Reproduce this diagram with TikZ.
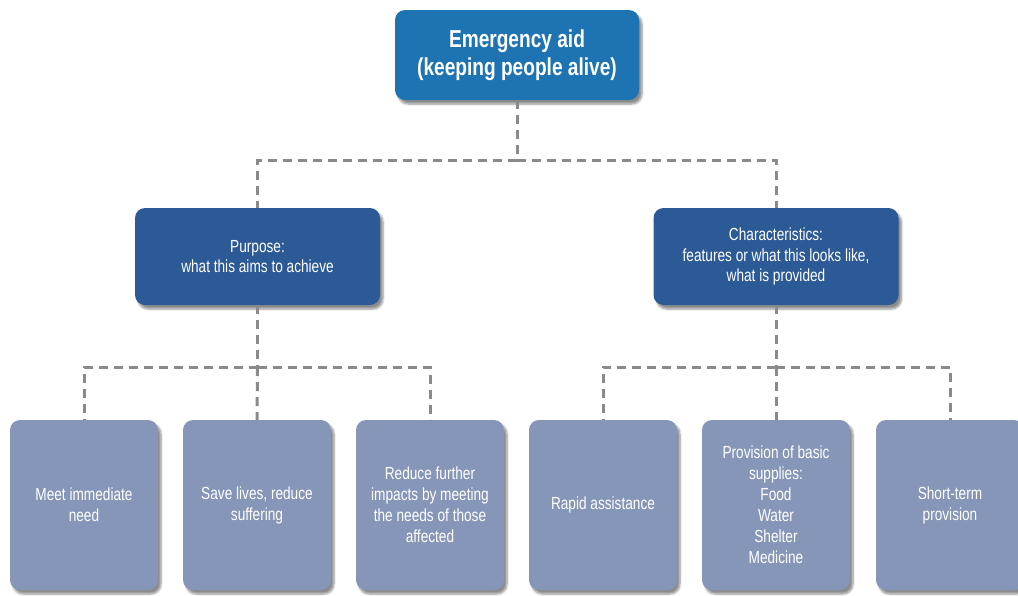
\documentclass[tikz,border=0pt]{standalone}
\usepackage{fontspec}
\setmainfont{Liberation Sans}[FakeStretch=0.78]
\usetikzlibrary{shadows.blur}
\definecolor{topblue}{HTML}{1E74B2}
\definecolor{midblue}{HTML}{2C5A97}
\definecolor{lowblue}{HTML}{8696B8}
\definecolor{linkgray}{HTML}{8A8A8A}
\tikzset{
  card/.style={rectangle, rounded corners=10pt, text=white, align=center,
    blur shadow={shadow xshift=3pt, shadow yshift=-4pt, shadow blur steps=6, shadow opacity=45}},
  headbox/.style={card, fill=topblue, minimum width=244pt, minimum height=90pt,
    font=\fontsize{24.5}{28}\selectfont\bfseries},
  groupbox/.style={card, fill=midblue, minimum width=245pt, minimum height=97pt,
    font=\fontsize{17.5}{20.5}\selectfont},
  leafbox/.style={card, fill=lowblue, minimum width=148pt, minimum height=170pt,
    font=\fontsize{17.5}{21}\selectfont},
  link/.style={draw=linkgray, line width=3pt, dash pattern=on 9pt off 6pt}
}
\begin{document}
\begin{tikzpicture}[x=1pt, y=-1pt]
\useasboundingbox (0,0) rectangle (1018,595);
\clip (0,0) rectangle (1018,595);

% junction points of the dashed tree
\coordinate (j0) at (517,160);
\coordinate (j1) at (257.5,367);
\coordinate (j2) at (776,367);

\node[headbox] (top) at (517,55) {Emergency aid\\(keeping people alive)};
\node[groupbox] (purpose) at (257.5,256.5) {Purpose:\\what this aims to achieve};
\node[groupbox] (chars) at (776,256.5) {Characteristics:\\features or what this looks like,\\what is provided};

\node[leafbox] (l1) at (84,505) {Meet immediate\\need};
\node[leafbox] (l2) at (257,505) {Save lives, reduce\\suffering};
\node[leafbox] (l3) at (430,505) {Reduce further\\impacts by meeting\\the needs of those\\affected};
\node[leafbox] (l4) at (603,505) {Rapid assistance};
\node[leafbox] (l5) at (776,505) {Provision of basic\\supplies:\\Food\\Water\\Shelter\\Medicine};
\node[leafbox] (l6) at (950,505) {Short-term\\provision};

% dashed connectors
\draw[link] (top.south) -- (j0);
\draw[link] (j0) -| (purpose.north);
\draw[link] (j0) -| (chars.north);

\draw[link] (purpose.south) -- (j1);
\draw[link] (j1) -| (l1.north);
\draw[link] (j1) -| (l3.north);
\draw[link] (j1) -- (l2.north);

\draw[link] (chars.south) -- (j2);
\draw[link] (j2) -| (l4.north);
\draw[link] (j2) -| (l6.north);
\draw[link] (j2) -- (l5.north);
\end{tikzpicture}
\end{document}
